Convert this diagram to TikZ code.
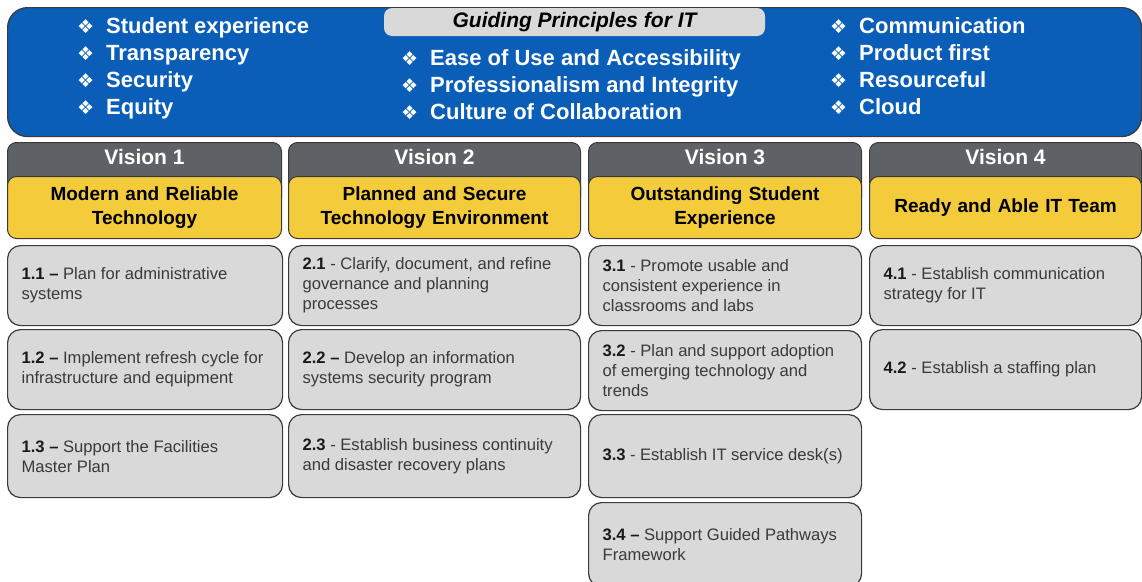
\documentclass[tikz,border=0pt]{standalone}
\usepackage{fontspec}
\setmainfont{Liberation Sans}
\newfontfamily\bulletfont{DejaVu Sans}
\definecolor{bannerblue}{HTML}{0A5EB8}
\definecolor{titlegray}{HTML}{D9D9D9}
\definecolor{headgray}{HTML}{5E6166}
\definecolor{headyellow}{HTML}{F4CB3A}
\definecolor{boxfill}{HTML}{D9D9D9}
\definecolor{boxline}{HTML}{3A3A3A}
\definecolor{itemtext}{HTML}{3A3A3A}
\definecolor{numtext}{HTML}{1A1A1A}
\newcommand\pbullet[1]{\makebox[29pt][l]{\bulletfont\fontsize{19}{19}\selectfont ❖}#1}
\newcommand\inum[1]{{\color{numtext}\bfseries #1}}
\newcommand\nohyph{\hyphenpenalty=10000\relax\exhyphenpenalty=10000\relax}
\newcommand\itxt[2]{\parbox{#1}{\raggedright\nohyph #2}}
\tikzset{
  banner/.style={draw=boxline, fill=bannerblue, line width=1.2pt, rounded corners=20pt, anchor=north west, minimum width=1134pt, minimum height=129pt, inner sep=0pt},
  titlebox/.style={fill=titlegray, rounded corners=8pt, minimum width=381pt, minimum height=28pt, inner sep=0pt, font=\bfseries\itshape\fontsize{21}{24}\selectfont, text=black},
  pline/.style={anchor=base west, inner sep=0pt, text=white, font=\bfseries\fontsize{22}{26}\selectfont},
  vishead/.style={draw=boxline, fill=headgray, line width=1pt, rounded corners=9pt, anchor=north west, inner xsep=0pt, inner ysep=6pt, text height=16pt, text depth=36pt, text=white, font=\bfseries\fontsize{21}{24}\selectfont},
  visname/.style={draw=boxline, fill=headyellow, line width=1pt, rounded corners=9pt, anchor=north west, minimum height=62pt, inner xsep=4pt, inner ysep=0pt, align=center, text=black, font=\bfseries\fontsize{19}{24}\selectfont},
  itembox/.style={draw=boxline, fill=boxfill, line width=1.2pt, rounded corners=13pt, anchor=north west, inner xsep=14pt, inner ysep=0pt, align=flush left, text=itemtext, font=\fontsize{16.6}{20}\selectfont\nohyph}
}
\begin{document}
\begin{tikzpicture}[x=1pt,y=-1pt]
\useasboundingbox (0,0) rectangle (1142,581);
% banner
\node[banner] (banner) at (7,7) {};
\node[titlebox] (title) at (574.5,22) {Guiding Principles for IT};
\node[pline] (p1) at (77,33) {\pbullet{Student experience}};
\node[pline] (p2) at (77,60) {\pbullet{Transparency}};
\node[pline] (p3) at (77,87) {\pbullet{Security}};
\node[pline] (p4) at (77,114) {\pbullet{Equity}};
\node[pline] (p5) at (401,65) {\pbullet{Ease of Use and Accessibility}};
\node[pline] (p6) at (401,92) {\pbullet{Professionalism and Integrity}};
\node[pline] (p7) at (401,119) {\pbullet{Culture of Collaboration}};
\node[pline] (p8) at (830,33) {\pbullet{Communication}};
\node[pline] (p9) at (830,60) {\pbullet{Product first}};
\node[pline] (p10) at (830,87) {\pbullet{Resourceful}};
\node[pline] (p11) at (830,114) {\pbullet{Cloud}};
% vision headers
\node[vishead, minimum width=274pt] (v1) at (7,142) {Vision 1};
\node[vishead, minimum width=292pt] (v2) at (288,142) {Vision 2};
\node[vishead, minimum width=273pt] (v3) at (588,142) {Vision 3};
\node[vishead, minimum width=272pt] (v4) at (869,142) {Vision 4};
\node[visname, minimum width=274pt, text width=266pt] (y1) at (7,176) {Modern and Reliable\\Technology};
\node[visname, minimum width=292pt, text width=284pt] (y2) at (288,176) {Planned and Secure\\Technology Environment};
\node[visname, minimum width=273pt, text width=265pt] (y3) at (588,176) {Outstanding Student\\Experience};
\node[visname, minimum width=272pt, text width=264pt] (y4) at (869,176) {Ready and Able IT Team};
% column 1
\node[itembox, text width=247pt, minimum height=80pt] (b11) at (7,245) {\itxt{247pt}{\inum{1.1 –} Plan for administrative systems}};
\node[itembox, text width=247pt, minimum height=80pt] (b12) at (7,329) {\itxt{247pt}{\inum{1.2 –} Implement refresh cycle for infrastructure and equipment}};
\node[itembox, text width=247pt, minimum height=83pt] (b13) at (7,414) {\itxt{247pt}{\inum{1.3 –} Support the Facilities Master Plan}};
% column 2
\node[itembox, text width=264pt, minimum height=80pt] (b21) at (288,245) {\itxt{255pt}{\inum{2.1} - Clarify, document, and refine governance and planning processes}};
\node[itembox, text width=264pt, minimum height=80pt] (b22) at (288,329) {\itxt{255pt}{\inum{2.2 –} Develop an information systems security program}};
\node[itembox, text width=264pt, minimum height=83pt] (b23) at (288,414) {\itxt{255pt}{\inum{2.3} - Establish business continuity and disaster recovery plans}};
% column 3
\node[itembox, text width=245pt, minimum height=80pt] (b31) at (588,245) {\itxt{240pt}{\inum{3.1} - Promote usable and consistent experience in classrooms and labs}};
\node[itembox, text width=245pt, minimum height=80pt] (b32) at (588,330) {\itxt{240pt}{\inum{3.2} - Plan and support adoption of emerging technology and trends}};
\node[itembox, text width=245pt, minimum height=83pt] (b33) at (588,414) {\itxt{240pt}{\inum{3.3} - Establish IT service desk(s)}};
\node[itembox, text width=245pt, minimum height=84pt] (b34) at (588,502) {\itxt{240pt}{\inum{3.4 –} Support Guided Pathways Framework}};
% column 4
\node[itembox, text width=244pt, minimum height=80pt] (b41) at (869,245) {\itxt{244pt}{\inum{4.1} - Establish communication strategy for IT}};
\node[itembox, text width=244pt, minimum height=80pt] (b42) at (869,329) {\itxt{244pt}{\inum{4.2} - Establish a staffing plan}};
\end{tikzpicture}
\end{document}
